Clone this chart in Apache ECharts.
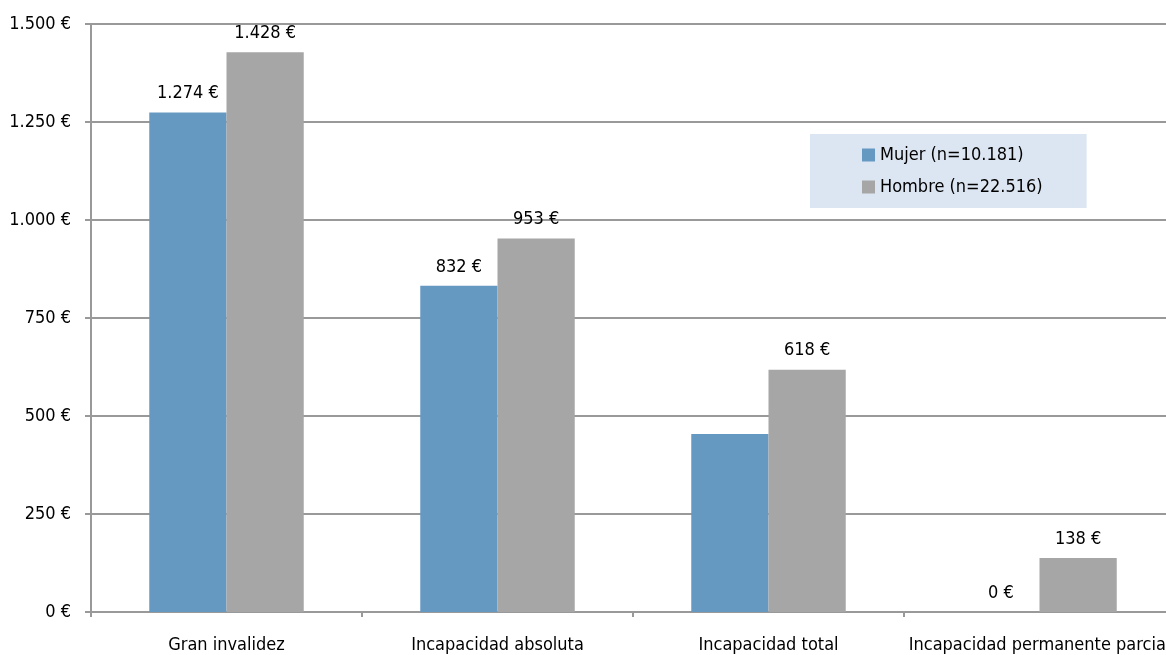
<!DOCTYPE html>
<html><head><meta charset="utf-8">
<script src="https://cdn.jsdelivr.net/npm/echarts@6/dist/echarts.min.js"></script>
<style>html,body{margin:0;padding:0;background:#fff;overflow:hidden}#c{width:1180px;height:655px}</style>
</head><body><div id="c"></div>
<script>
const categories = ['Gran invalidez', 'Incapacidad absoluta', 'Incapacidad total', 'Incapacidad permanente parcial'];
const mujer = [1274, 832, 454, 0];
const hombre = [1428, 953, 618, 138];
const mujerLabelShown = [true, true, false, true];
const hombreLabelShown = [true, true, true, true];
const seriesNames = ['Mujer (n=10.181)', 'Hombre (n=22.516)'];
const yTicks = [0, 250, 500, 750, 1000, 1250, 1500];

const FONT = "'DejaVu Sans Condensed', sans-serif";
const FS = 18;
function fmt(v) {
  return String(v).replace(/\B(?=(\d{3})+(?!\d))/g, '.') + ' €';
}
function build(vals, shown) {
  return vals.map((v, i) => shown[i] ? v : { value: v, label: { show: false } });
}
const chart = echarts.init(document.getElementById('c'));
chart.setOption({
  animation: false,
  textStyle: { fontFamily: FONT },
  grid: { left: 91, right: 5, top: 24, bottom: 43 },
  legend: {
    orient: 'vertical',
    left: 810, top: 134,
    backgroundColor: '#dce6f2',
    padding: [12, 44, 12, 52],
    itemWidth: 13, itemHeight: 13, itemGap: 14,
    icon: 'rect',
    textStyle: { fontFamily: FONT, fontSize: FS, color: '#000' },
    data: seriesNames
  },
  xAxis: {
    type: 'category',
    data: categories,
    axisLine: { lineStyle: { color: '#999', width: 2 } },
    axisTick: { show: true, length: 5, lineStyle: { color: '#999', width: 2 } },
    axisLabel: { fontFamily: FONT, fontSize: FS, color: '#000', margin: 24, interval: 0, hideOverlap: false }
  },
  yAxis: {
    type: 'value',
    min: 0, max: 1500, interval: 250,
    axisLine: { show: true, lineStyle: { color: '#999', width: 2 } },
    axisTick: { show: true, length: 6, lineStyle: { color: '#999', width: 2 } },
    splitLine: { lineStyle: { color: '#999', width: 2 } },
    axisLabel: { fontFamily: FONT, fontSize: FS, color: '#000', margin: 20,
      formatter: v => yTicks.includes(v) ? fmt(v) : '' }
  },
  series: [
    { name: seriesNames[0], type: 'bar', data: build(mujer, mujerLabelShown),
      barGap: '0%', barCategoryGap: '43%',
      itemStyle: { color: '#6699c2' },
      label: { show: true, position: 'top', distance: 10, fontFamily: FONT, fontSize: FS, color: '#000',
        formatter: p => fmt(p.value) } },
    { name: seriesNames[1], type: 'bar', data: build(hombre, hombreLabelShown),
      barGap: '0%', barCategoryGap: '43%',
      itemStyle: { color: '#a6a6a6' },
      label: { show: true, position: 'top', distance: 10, fontFamily: FONT, fontSize: FS, color: '#000',
        formatter: p => fmt(p.value) } }
  ]
});
</script></body></html>
